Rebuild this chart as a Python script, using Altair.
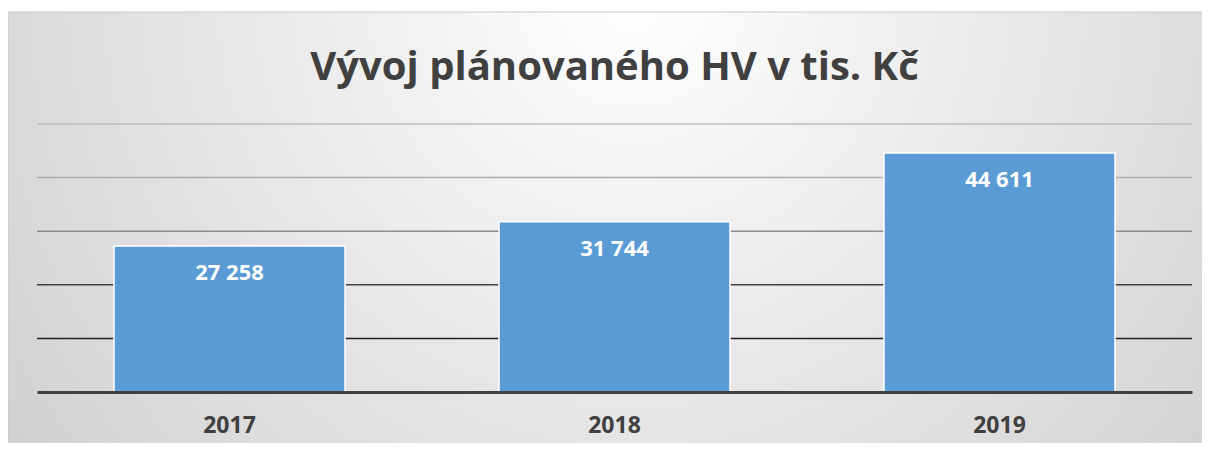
import altair as alt
import pandas as pd

title_text = "Vývoj plánovaného HV v tis. Kč"
years = ["2017", "2018", "2019"]
values = [27258, 31744, 44611]
grid_ticks = [10000, 20000, 30000, 40000, 50000]

df = pd.DataFrame({"rok": years, "hv": values})
grid_df = pd.DataFrame({"t": grid_ticks})

W, H = 1155, 268
PL, PT, PR, PB = 29, 116, 10, 51

yscale = alt.Scale(domain=[0, 50000], nice=False, zero=True)

bg = alt.Chart(alt.Data(values=[{"a": 1}])).mark_rect(
    fill={
        "gradient": "radial",
        "x1": 0.52, "y1": 0.3, "r1": 0,
        "x2": 0.52, "y2": 0.3, "r2": 0.85,
        "stops": [
            {"offset": 0, "color": "#ffffff"},
            {"offset": 1, "color": "#c2c2c2"},
        ],
    },
    stroke="#c8c8c8",
    strokeWidth=1,
).encode(
    x=alt.value(-PL),
    x2=alt.value(W + 18),
    y=alt.value(-112),
    y2=alt.value(H + 59),
)

title = alt.Chart(alt.Data(values=[{"t": title_text}])).mark_text(
    font="Open Sans",
    fontSize=40,
    fontWeight="bold",
    color="#404040",
    align="center",
    baseline="middle",
).encode(
    text="t:N",
    x=alt.value(W / 2),
    y=alt.value(-56),
)

grid = alt.Chart(grid_df).mark_rule(strokeWidth=1.5).encode(
    y=alt.Y("t:Q", scale=yscale, axis=None),
    color=alt.Color(
        "t:O",
        scale=alt.Scale(
            domain=grid_ticks,
            range=["#202020", "#404040", "#8c8c8c", "#acacac", "#bdbdbd"],
        ),
        legend=None,
    ),
)

bars = alt.Chart(df).mark_bar(
    color="#5b9bd5", stroke="#ffffff", strokeWidth=1.5
).encode(
    x=alt.X(
        "rok:N",
        sort=years,
        scale=alt.Scale(paddingInner=0.4, paddingOuter=0.2),
        axis=alt.Axis(
            title=None,
            ticks=False,
            labelAngle=0,
            labelFont="Open Sans",
            labelFontSize=23,
            labelFontWeight="bold",
            labelColor="#404040",
            labelBaseline="middle",
            labelPadding=33,
            domainColor="#404040",
            domainWidth=3,
            zindex=1,
        ),
    ),
    y=alt.Y("hv:Q", scale=yscale, axis=None),
)

labels = alt.Chart(df).transform_calculate(
    lab="replace(format(datum.hv, ','), ',', ' ')"
).mark_text(
    font="Open Sans",
    fontSize=22,
    fontWeight="bold",
    color="#ffffff",
    baseline="middle",
    dy=27,
).encode(
    x=alt.X("rok:N", sort=years),
    y=alt.Y("hv:Q", scale=yscale),
    text="lab:N",
)

chart = alt.layer(bg, title, grid, bars, labels).properties(
    width=W,
    height=H,
    padding={"left": PL, "top": PT, "right": PR, "bottom": PB},
    autosize=alt.AutoSizeParams(type="none"),
).configure_view(stroke=None)

chart.save("out.html", embed_options={"renderer": "svg", "actions": False})
